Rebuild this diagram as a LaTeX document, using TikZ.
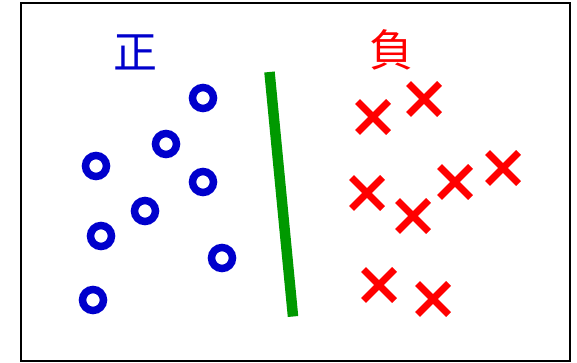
\documentclass[tikz,border=0pt]{standalone}
\usepackage{fontspec}
\newfontfamily\cjkfont{Noto Sans CJK JP}
\usetikzlibrary{shapes.misc}

\begin{document}
\begin{tikzpicture}[x=1pt,y=-1pt]
        \useasboundingbox (0,0) rectangle (577,363);

        \definecolor{posblue}{RGB}{0,0,204}
        \definecolor{negred}{RGB}{255,0,0}
        \definecolor{sepgreen}{RGB}{0,153,0}

        \tikzset{
          posmark/.style={circle, draw=posblue, line width=7.5pt, minimum size=21pt, inner sep=0pt},
          negmark/.style={cross out, draw=negred, line width=7pt, minimum size=24pt, inner sep=0pt},
          classlabel/.style={font=\cjkfont\fontsize{44}{44}\selectfont, inner sep=0pt}
        }

        \draw [line width=2pt] (21,3) rectangle (570,361);

        \node [classlabel, text=posblue] (labelPos) at (135.5,52) {正};
        \node [classlabel, text=negred] (labelNeg) at (391,50) {負};

        % positive samples
        \node [posmark] (p1) at (203,98) {};
        \node [posmark] (p2) at (166,144) {};
        \node [posmark] (p3) at (96,166) {};
        \node [posmark] (p4) at (203,182) {};
        \node [posmark] (p5) at (145,211) {};
        \node [posmark] (p6) at (101,236) {};
        \node [posmark] (p7) at (222,258) {};
        \node [posmark] (p8) at (93,300) {};

        % negative samples
        \node [negmark] (n1) at (373,117) {};
        \node [negmark] (n2) at (424,99) {};
        \node [negmark] (n3) at (367,193) {};
        \node [negmark] (n4) at (413,216) {};
        \node [negmark] (n5) at (455,182) {};
        \node [negmark] (n6) at (503,168) {};
        \node [negmark] (n7) at (379,285) {};
        \node [negmark] (n8) at (433,299) {};

        % separating line
        \coordinate (sepTop) at (269.5,72);
        \coordinate (sepBot) at (293,316.5);
        \draw [sepgreen, line width=10.5pt] (sepTop) -- (sepBot);

\end{tikzpicture}
\end{document}
